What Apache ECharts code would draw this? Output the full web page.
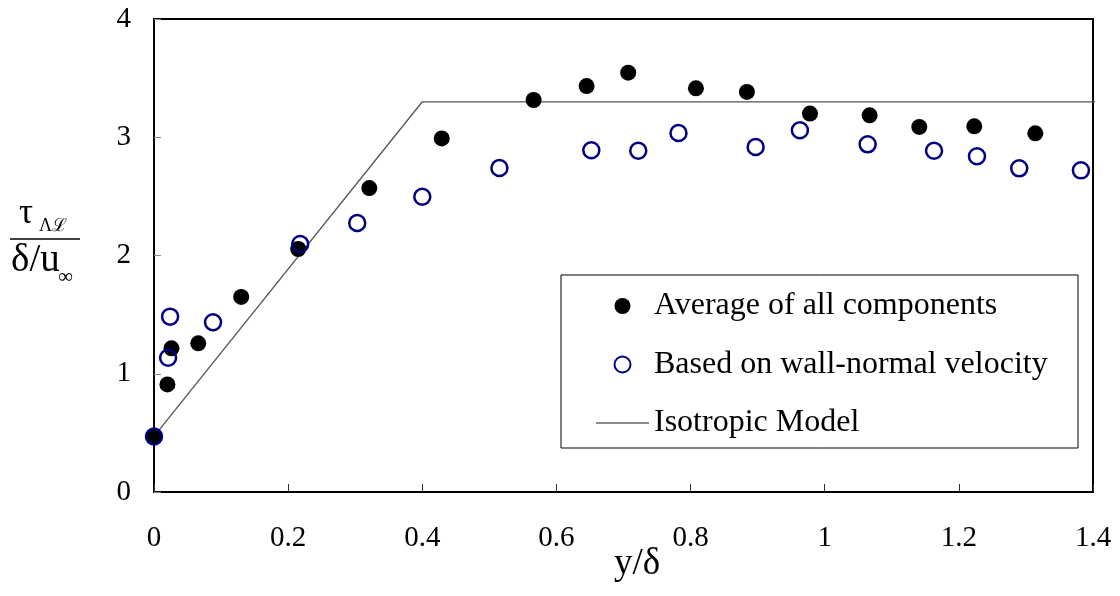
<!DOCTYPE html>
<html>
<head>
<meta charset="utf-8">
<script src="https://cdn.jsdelivr.net/npm/echarts@6/dist/echarts.min.js"></script>
<style>
html,body{margin:0;padding:0;background:#fff;}
#chart{width:1120px;height:596px;}
</style>
</head>
<body>
<div id="chart"></div>
<script>
// ---- data ----
const avgX  = [0, 0.020, 0.026, 0.066, 0.130, 0.215, 0.321, 0.429, 0.566, 0.645, 0.707, 0.808, 0.884, 0.978, 1.067, 1.141, 1.223, 1.314];
const avgY  = [0.47, 0.91, 1.215, 1.257, 1.65, 2.055, 2.57, 2.99, 3.315, 3.433, 3.546, 3.414, 3.383, 3.20, 3.185, 3.087, 3.092, 3.033];
const wallX = [0, 0.021, 0.024, 0.088, 0.218, 0.303, 0.400, 0.515, 0.652, 0.722, 0.782, 0.897, 0.963, 1.064, 1.163, 1.227, 1.290, 1.382];
const wallY = [0.47, 1.136, 1.483, 1.435, 2.097, 2.275, 2.497, 2.74, 2.89, 2.886, 3.036, 2.918, 3.059, 2.940, 2.886, 2.839, 2.737, 2.720];
const isoX  = [0, 0.4, 1.413];
const isoY  = [0.47, 3.3, 3.3];
const seriesNames = ['Average of all components', 'Based on wall-normal velocity', 'Isotropic Model'];
const xAxisTitle = 'y/δ';

const zip = (xs, ys) => xs.map((x, i) => [x, ys[i]]);
const FONT = "'Liberation Serif','Times New Roman',serif";

const chart = echarts.init(document.getElementById('chart'), null, {renderer: 'canvas'});
chart.setOption({
  backgroundColor: '#ffffff',
  animation: false,
  grid: {left: 154, top: 19, right: 27, bottom: 104, show: true, borderColor: '#000', borderWidth: 2, backgroundColor: 'transparent'},
  xAxis: {
    type: 'value', min: 0, max: 1.4, interval: 0.2,
    axisLine: {show: true, lineStyle: {color: '#000', width: 2}},
    axisTick: {show: true, inside: true, length: 8, lineStyle: {color: '#333', width: 1}},
    axisLabel: {margin: 32, color: '#000', fontFamily: FONT, fontSize: 29},
    splitLine: {show: false}
  },
  yAxis: {
    type: 'value', min: 0, max: 4, interval: 1,
    axisLine: {show: true, lineStyle: {color: '#000', width: 2}},
    axisTick: {show: true, inside: true, length: 7, lineStyle: {color: '#888', width: 1}},
    axisLabel: {margin: 23, color: '#000', fontFamily: FONT, fontSize: 29},
    splitLine: {show: false}
  },
  legend: {
    orient: 'vertical', left: 596, top: 290, padding: 0,
    itemWidth: 53, itemHeight: 16, itemGap: 26.5, itemTextGap: 9,
    selectedMode: false,
    textStyle: {color: '#000', fontFamily: FONT, fontSize: 32},
    data: [
      {name: seriesNames[0]},
      {name: seriesNames[1]},
      {name: seriesNames[2], icon: 'path://M0,0H100V2.4H0Z'}
    ]
  },
  graphic: [
    {type: 'rect', shape: {x: 561, y: 275, width: 517, height: 173}, style: {fill: 'none', stroke: '#000', lineWidth: 1}, z: 1},
    {type: 'text', x: 637, y: 583, style: {text: xAxisTitle, font: "37px 'Liberation Serif','Times New Roman',serif", fill: '#000', textAlign: 'center', textVerticalAlign: 'bottom'}},
    {type: 'text', x: 19, y: 231, style: {text: 'τ', font: "35px 'Liberation Serif','Times New Roman',serif", fill: '#000', textAlign: 'left', textVerticalAlign: 'bottom'}},
    {type: 'text', x: 39, y: 235, style: {text: 'Λℒ', font: "18px 'Liberation Serif','DejaVu Serif',serif", fill: '#000', textAlign: 'left', textVerticalAlign: 'bottom'}},
    {type: 'line', shape: {x1: 10, y1: 239, x2: 80, y2: 239}, style: {stroke: '#000', lineWidth: 1.5}},
    {type: 'text', x: 11, y: 280, style: {text: 'δ/u', font: "39px 'Liberation Serif','Times New Roman',serif", fill: '#000', textAlign: 'left', textVerticalAlign: 'bottom'}},
    {type: 'text', x: 58, y: 288, style: {text: '∞', font: "21px 'Liberation Serif','DejaVu Serif',serif", fill: '#000', textAlign: 'left', textVerticalAlign: 'bottom'}}
  ],
  series: [
    {
      name: seriesNames[2], type: 'line', data: zip(isoX, isoY), symbol: 'none', clip: false,
      lineStyle: {color: '#555', width: 1.3}, itemStyle: {color: '#666'}, z: 2
    },
    {
      name: seriesNames[0], type: 'scatter', data: zip(avgX, avgY), symbol: 'circle', symbolSize: 16,
      itemStyle: {color: '#000', opacity: 1}, z: 3
    },
    {
      name: seriesNames[1], type: 'scatter', data: zip(wallX, wallY), symbol: 'circle', symbolSize: 16,
      itemStyle: {color: 'rgba(255,255,255,0)', borderColor: '#000080', borderWidth: 2.5, opacity: 1}, z: 4
    }
  ]
});
</script>
</body>
</html>
